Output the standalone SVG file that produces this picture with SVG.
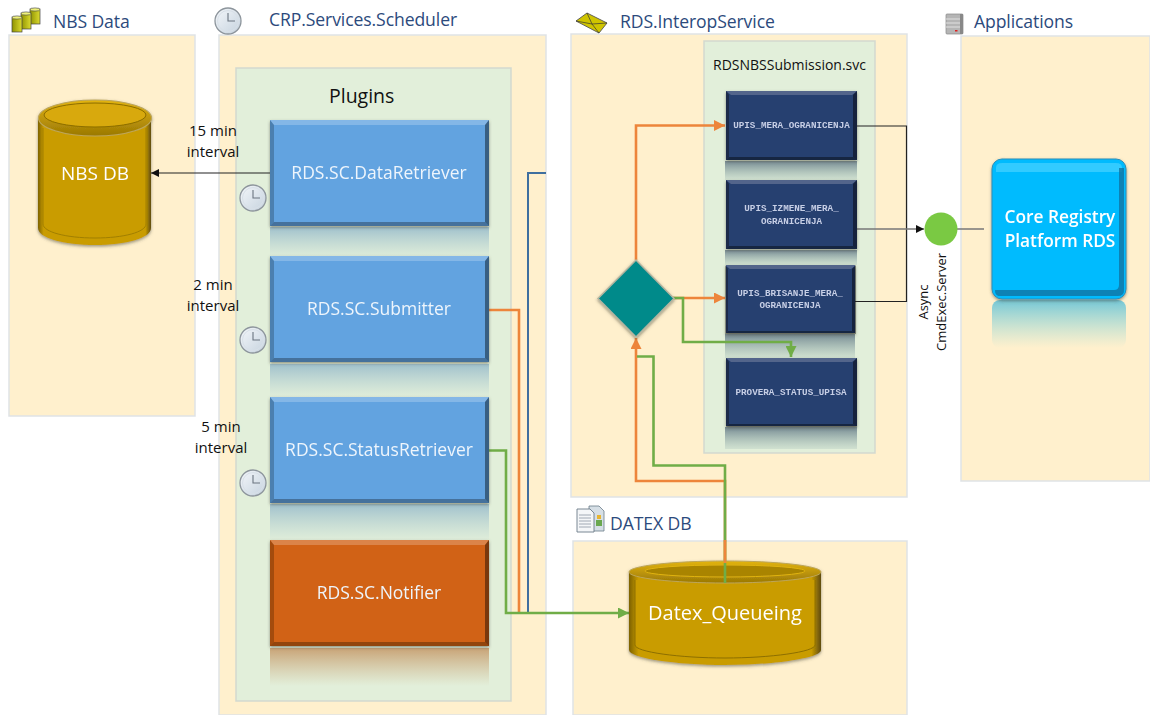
<svg xmlns="http://www.w3.org/2000/svg" width="1150" height="715" viewBox="0 0 1150 715">
<style>
text{font-family:"Open Sans","Noto Sans","Liberation Sans",sans-serif}
.panel{fill:#fff0cd;stroke:#dfe3e6;stroke-width:1.5}
.inner{fill:#e2efda;stroke:#d3d9cf;stroke-width:1.5}
.title{font-size:17.6px;fill:#2c4a7c;letter-spacing:-.1px}
.note{font-size:15px;fill:#111;text-anchor:middle}
.blue{fill:#62a3e0}
.plug{font-size:17.5px;fill:#eef5fc;text-anchor:middle}
.navy{fill:#283f6f}
.code{font-family:"Liberation Mono","DejaVu Sans Mono",monospace;font-size:9.25px;font-weight:bold;fill:#c6cfe6;text-anchor:middle}
.or{fill:none;stroke:#ed853b;stroke-width:2.6}
.gr{fill:none;stroke:#70ad47;stroke-width:2.6}
.bk{fill:none;stroke:#222;stroke-width:1.2}
.gy{fill:none;stroke:#777;stroke-width:1.5}
</style>
<defs>
<linearGradient id="rBlue" x1="0" y1="0" x2="0" y2="1"><stop offset="0" stop-color="#8fb5c9" stop-opacity=".8"/><stop offset="1" stop-color="#a8c8cf" stop-opacity=".05"/></linearGradient>
<linearGradient id="rOrange" x1="0" y1="0" x2="0" y2="1"><stop offset="0" stop-color="#c08a55" stop-opacity=".75"/><stop offset="1" stop-color="#c9a070" stop-opacity="0"/></linearGradient>
<linearGradient id="rNavy" x1="0" y1="0" x2="0" y2="1"><stop offset="0" stop-color="#5a7080" stop-opacity=".8"/><stop offset="1" stop-color="#8aa8a8" stop-opacity=".2"/></linearGradient>
<linearGradient id="rCore" x1="0" y1="0" x2="0" y2="1"><stop offset="0" stop-color="#5cc0d8" stop-opacity=".85"/><stop offset="1" stop-color="#8ad8d8" stop-opacity="0"/></linearGradient>
<linearGradient id="clk" x1="0" y1="0" x2="1" y2="1"><stop offset="0" stop-color="#f4f7fa"/><stop offset="1" stop-color="#c5d2de"/></linearGradient>
<linearGradient id="cylSide" x1="0" y1="0" x2="1" y2="0"><stop offset="0" stop-color="#7d6205"/><stop offset=".05" stop-color="#c99c04"/><stop offset=".95" stop-color="#c99c04"/><stop offset="1" stop-color="#5f4c0a"/></linearGradient>
<linearGradient id="cylTop" x1="0" y1="0" x2="0" y2="1"><stop offset="0" stop-color="#e3b40f"/><stop offset="1" stop-color="#9a7804"/></linearGradient>
<linearGradient id="mini" x1="0" y1="0" x2="1" y2="0"><stop offset="0" stop-color="#8f9200"/><stop offset="1" stop-color="#dcdc30"/></linearGradient>
<filter id="sh" x="-10%" y="-10%" width="120%" height="120%"><feDropShadow dx="0" dy="1.5" stdDeviation="1.5" flood-color="#4a4a3a" flood-opacity=".55"/></filter>
<g id="clock"><circle r="13" fill="url(#clk)" stroke="#8d959c" stroke-width="1.3"/><circle r="10.5" fill="none" stroke="#d8e0e8" stroke-width="1"/><path d="M0-8V0H7" fill="none" stroke="#6b7580" stroke-width="1.1"/></g>
<g id="bevL"><path d="M0 0H219L215 5H4Z" fill="#fff" fill-opacity=".22"/><path d="M0 0L4 5V102L0 106Z" fill="#000" fill-opacity=".22"/><path d="M219 0L215 5V102L219 106Z" fill="#000" fill-opacity=".42"/><path d="M0 106L4 102H215L219 106Z" fill="#000" fill-opacity=".3"/></g>
<g id="bevS"><path d="M0 0H131L126 4H5Z" fill="#fff" fill-opacity=".2"/><path d="M0 0L3 4V66L0 69Z" fill="#000" fill-opacity=".35"/><path d="M131 0L127 4V66L131 69Z" fill="#000" fill-opacity=".45"/><path d="M0 69L3 66H127L131 69Z" fill="#000" fill-opacity=".4"/></g>
<marker id="aO" markerWidth="12" markerHeight="11" refX="11" refY="5.500" orient="auto" markerUnits="userSpaceOnUse"><path d="M0 0L11 5.500L0 11Z" fill="#ed853b"/></marker>
<marker id="aG" markerWidth="12" markerHeight="11" refX="11" refY="5.500" orient="auto" markerUnits="userSpaceOnUse"><path d="M0 0L11 5.500L0 11Z" fill="#70ad47"/></marker>
<marker id="aK" markerWidth="9" markerHeight="8" refX="8" refY="4" orient="auto" markerUnits="userSpaceOnUse"><path d="M0 0L8 4L0 8Z" fill="#111"/></marker>
</defs>

<g id="panel-nbs"><rect class="panel" x="9" y="35" width="186" height="381"/>
<g transform="translate(12,8)"><g id="mini-cyls"><rect x="18" y="1" width="10" height="15" fill="url(#mini)" stroke="#444" stroke-width=".7"/><ellipse cx="23" cy="1.5" rx="5" ry="1.6" fill="#eef07a" stroke="#444" stroke-width=".6"/><rect x="9" y="5" width="10" height="16" fill="url(#mini)" stroke="#444" stroke-width=".7"/><ellipse cx="14" cy="5.5" rx="5" ry="1.6" fill="#eef07a" stroke="#444" stroke-width=".6"/><rect y="9" width="10" height="15" fill="url(#mini)" stroke="#444" stroke-width=".7"/><ellipse cx="5" cy="9.5" rx="5" ry="1.6" fill="#eef07a" stroke="#444" stroke-width=".6"/></g></g>
<text class="title" x="53" y="28">NBS Data</text></g>

<g id="panel-crp"><rect class="panel" x="219" y="35" width="327" height="680"/>
<use href="#clock" x="228" y="21"/>
<text class="title" x="269" y="26">CRP.Services.Scheduler</text>
<rect class="inner" x="236" y="68" width="275" height="633"/>
<text x="329" y="103" font-size="19.500" fill="#111">Plugins</text></g>

<g id="panel-interop"><rect class="panel" x="571" y="34" width="336" height="463"/>
<g id="mail-icon"><path d="M576 21L587 13L607 23L599 33Z" fill="#cfc400" stroke="#555" stroke-width=".9"/><path d="M576 21L592 24L587 13M592 24L599 33M592 24L607 23" fill="none" stroke="#333" stroke-width=".7"/></g>
<text class="title" x="620" y="28">RDS.InteropService</text>
<rect class="inner" x="704" y="41" width="171" height="412"/>
<text x="713" y="70" font-size="14" fill="#111">RDSNBSSubmission.svc</text></g>

<g id="panel-apps"><rect class="panel" x="961" y="36" width="189" height="445"/>
<g id="server-icon"><rect x="946" y="14" width="17" height="20" rx="1" fill="#b5b5b5" stroke="#888" stroke-width=".7"/><path d="M946 19H960M946 23H960M946 27H960" stroke="#eee" stroke-width=".8"/><rect x="955" y="30" width="2.500" height="1.500" fill="#d22"/><rect x="960" y="14" width="3" height="20" fill="#888"/></g>
<text class="title" x="974" y="28">Applications</text></g>

<g id="panel-datex"><rect class="panel" x="573" y="541" width="334" height="174"/>
<g id="doc-icon"><path d="M589 506H599L604 511V531H589Z" fill="#d6dfe6" stroke="#6b7b88" stroke-width=".8"/><path d="M577 509H590L594 513V532H577Z" fill="#f4f6f8" stroke="#6b7b88" stroke-width=".9"/><path d="M579 515H591M579 518H591M579 521H591M579 524H591M579 527H591" stroke="#8d98a2" stroke-width=".8"/><rect x="596" y="520" width="6" height="6" fill="#6aa84f"/><rect x="597" y="515" width="4" height="4" fill="#e8b530"/></g>
<text class="title" x="610" y="530">DATEX DB</text></g>

<g id="reflections">
<rect x="270" y="227" width="219" height="31" fill="url(#rBlue)"/>
<rect x="270" y="364" width="219" height="33" fill="url(#rBlue)"/>
<rect x="270" y="504" width="219" height="36" fill="url(#rBlue)"/>
<rect x="270" y="648" width="219" height="38" fill="url(#rOrange)"/>
<rect x="725" y="161" width="132" height="19" fill="url(#rNavy)"/>
<rect x="725" y="250" width="132" height="15" fill="url(#rNavy)"/>
<rect x="725" y="334" width="130" height="24" fill="url(#rNavy)"/>
<rect x="725" y="427" width="132" height="22" fill="url(#rNavy)"/>
<rect x="992" y="300" width="134" height="48" rx="8" fill="url(#rCore)"/>
</g>

<g id="connectors">
<path class="bk" d="M270 173H151" marker-end="url(#aK)"/>
<path fill="none" stroke="#3f6f9f" stroke-width="2" d="M546 173H528V612"/>
<path class="or" d="M489 310H519V613"/>
<path class="bk" d="M857 126H906.500V301.500H855"/>
<path class="gy" d="M857 229H924" marker-end="url(#aK)"/>
<path class="gy" d="M957 229H984"/>
<path class="or" d="M636 260V125.500H725" marker-end="url(#aO)"/>
<path class="or" d="M673 298H725" marker-end="url(#aO)"/>
<path class="gr" d="M673 298H683V342H791V357" marker-end="url(#aG)"/>
<path class="or" d="M725 563V481H636V338" marker-end="url(#aO)"/>
<path class="gr" d="M725 583V465.500H653.500V356.500H637"/>
<path class="gr" d="M489 450.500H506V613H629" marker-end="url(#aG)"/>
</g>

<g id="nbs-db" filter="url(#sh)"><path d="M38 118V228C38 238 63 245 95 245C127 245 151 238 151 228V118Z" fill="url(#cylSide)"/><path d="M43 128V224C43 232 66 238 95 238C124 238 146 232 146 224V128" fill="#c99c04" stroke="#a17f07" stroke-width="1"/><ellipse cx="95" cy="118" rx="56.500" ry="18" fill="url(#cylTop)" stroke="#bda65a" stroke-width="1.200"/><ellipse cx="95" cy="115" rx="51" ry="12" fill="#d8a908" stroke="#8c6d05" stroke-width="1"/>
<text x="95" y="180" font-size="19" fill="#fff" text-anchor="middle">NBS DB</text></g>

<g id="data-retriever" filter="url(#sh)"><rect class="blue" x="270" y="120" width="219" height="106"/><use href="#bevL" x="270" y="120"/><text class="plug" x="379" y="179">RDS.SC.DataRetriever</text></g>
<g id="submitter" filter="url(#sh)"><rect class="blue" x="270" y="256" width="219" height="106"/><use href="#bevL" x="270" y="256"/><text class="plug" x="379" y="315">RDS.SC.Submitter</text></g>
<g id="status-retriever" filter="url(#sh)"><rect class="blue" x="270" y="397" width="219" height="106"/><use href="#bevL" x="270" y="397"/><text class="plug" x="379" y="456">RDS.SC.StatusRetriever</text></g>
<g id="notifier" filter="url(#sh)"><rect x="270" y="540" width="219" height="106" fill="#d16215"/><use href="#bevL" x="270" y="540"/><text class="plug" x="379" y="599">RDS.SC.Notifier</text></g>

<g id="clocks"><use href="#clock" x="253" y="198"/><use href="#clock" x="253" y="340"/><use href="#clock" x="253" y="483"/></g>
<g id="notes">
<text class="note" x="213" y="136">15 min</text><text class="note" x="213" y="157">interval</text>
<text class="note" x="213" y="290">2 min</text><text class="note" x="213" y="311">interval</text>
<text class="note" x="221" y="432">5 min</text><text class="note" x="221" y="453">interval</text>
</g>

<g id="gateway"><path d="M636 260L674 298.500L636 337L598 298.500Z" fill="#068a8a" stroke="#b5b5a0" stroke-width="1.500" filter="url(#sh)"/></g>

<g id="upis-mera" filter="url(#sh)"><rect class="navy" x="726" y="91" width="131" height="69"/><use href="#bevS" x="726" y="91"/><text class="code" x="791.500" y="128">UPIS_MERA_OGRANICENJA</text></g>
<g id="upis-izmene" filter="url(#sh)"><rect class="navy" x="726" y="180" width="131" height="69"/><use href="#bevS" x="726" y="180"/><text class="code" x="791.500" y="211">UPIS_IZMENE_MERA_</text><text class="code" x="791.500" y="224">OGRANICENJA</text></g>
<g id="upis-brisanje" filter="url(#sh)"><rect class="navy" x="726" y="265" width="129" height="68"/><use href="#bevS" x="725" y="265"/><text class="code" x="790" y="296">UPIS_BRISANJE_MERA_</text><text class="code" x="790" y="308">OGRANICENJA</text></g>
<g id="provera" filter="url(#sh)"><rect class="navy" x="726" y="358" width="131" height="68"/><use href="#bevS" x="726" y="358"/><text class="code" x="791" y="395">PROVERA_STATUS_UPISA</text></g>

<g id="async-server"><circle cx="941" cy="229" r="16.500" fill="#7ac943"/>
<text font-size="13" fill="#111" text-anchor="middle" transform="translate(928,302) rotate(-90)">Async</text>
<text font-size="13" fill="#111" text-anchor="middle" transform="translate(946,302) rotate(-90)">CmdExec.Server</text></g>

<g id="core" filter="url(#sh)"><rect x="992" y="159" width="134" height="140" rx="10" fill="#04bbfe" stroke="#2a8fb8" stroke-width="1"/><path d="M996 172V168Q996 163 1002 163H1116Q1122 163 1122 168V172Z" fill="#5fdcff" fill-opacity=".5"/><path d="M1119 168H1124V290Q1124 296 1118 296H1000Q995 296 995 290H1114Q1119 290 1119 285Z" fill="#0a6f9c" fill-opacity=".75"/>
<text x="1060" y="223" font-size="17.300" font-weight="600" fill="#fff" text-anchor="middle">Core Registry</text><text x="1060" y="247" font-size="17.300" font-weight="600" fill="#fff" text-anchor="middle">Platform RDS</text></g>

<g id="datex-queue" filter="url(#sh)"><path d="M629 572V650C629 658 675 665 725 665C775 665 821 658 821 650V572Z" fill="url(#cylSide)"/><path d="M635 580V645C635 652 680 658 725 658C770 658 815 652 815 645V580" fill="#c99c04" stroke="#8d6f05" stroke-width="1"/><ellipse cx="725" cy="572" rx="96" ry="11" fill="url(#cylTop)" stroke="#bda65a" stroke-width="1"/><ellipse cx="725" cy="571" rx="80" ry="6" fill="#a98405" stroke="#e0b310" stroke-width="1"/>
<text x="725" y="620" font-size="20" fill="#fff" text-anchor="middle">Datex_Queueing</text></g>

<g id="overlay-connectors"><path class="or" d="M725 540V563"/><path class="gr" d="M725 563V583"/></g>
</svg>
